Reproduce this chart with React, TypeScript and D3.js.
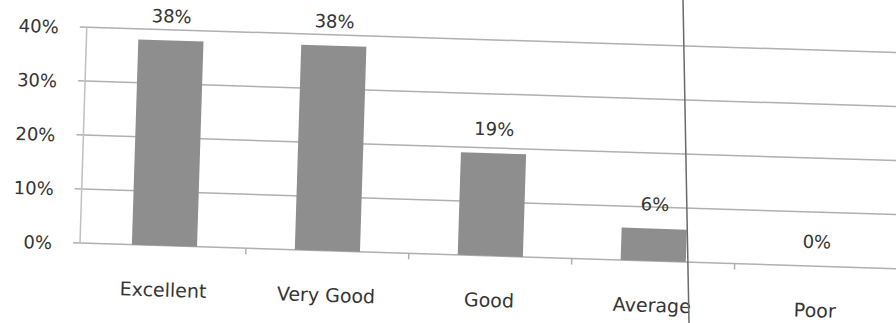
import React, { useEffect, useRef } from 'react';
import * as d3 from 'd3';

const categories = ['Excellent', 'Very Good', 'Good', 'Average', 'Poor'];
const shares = [0.38, 0.38, 0.19, 0.06, 0];
const yTicks = [0, 0.1, 0.2, 0.3, 0.4];

const RatingChart: React.FC = () => {
  const svgRef = useRef<SVGSVGElement>(null);

  useEffect(() => {
    if (!svgRef.current) return;
    const svg = d3.select(svgRef.current);
    svg.selectAll('*').remove();

    const width = 896;
    const height = 323;
    const margin = { top: 27, bottom: 80, left: 80 };
    const chartHeight = height - margin.top - margin.bottom; // 216

    const font = '"DejaVu Sans", sans-serif';
    const textColor = '#353535';
    const gridColor = '#b0b0b0';

    const data = categories.map((c, i) => ({ category: c, value: shares[i] }));

    const xScale = d3.scaleBand()
      .domain(categories)
      .range([3, 818])
      .paddingInner(0.6)
      .paddingOuter(0.3);

    const yScale = d3.scaleLinear()
      .domain([0, 0.4])
      .range([chartHeight, 0]);

    const pct = d3.format('.0%');

    svg.attr('width', width).attr('height', height);
    svg.append('rect').attr('width', width).attr('height', height).attr('fill', '#ffffff');

    // the scanned page is slightly tilted
    const g = svg.append('g')
      .attr('transform', `rotate(1.8, ${margin.left}, ${margin.top + chartHeight}) translate(${margin.left},${margin.top})`);

    // gridlines + left tick marks
    g.selectAll('.grid')
      .data(yTicks)
      .enter()
      .append('line')
      .attr('x1', -7)
      .attr('x2', 830)
      .attr('y1', d => yScale(d))
      .attr('y2', d => yScale(d))
      .attr('stroke', gridColor)
      .attr('stroke-width', 1.5);

    // y axis line
    g.append('line')
      .attr('x1', 0).attr('x2', 0)
      .attr('y1', yScale(0.4)).attr('y2', yScale(0))
      .attr('stroke', '#c0c0c0')
      .attr('stroke-width', 1.5);

    // x axis ticks between categories
    const gap = (xScale.step() - xScale.bandwidth()) / 2;
    g.selectAll('.xtick')
      .data(categories.slice(1))
      .enter()
      .append('line')
      .attr('x1', d => xScale(d)! - gap)
      .attr('x2', d => xScale(d)! - gap)
      .attr('y1', chartHeight)
      .attr('y2', chartHeight + 6)
      .attr('stroke', gridColor)
      .attr('stroke-width', 1.5);

    // y tick labels
    g.selectAll('.ylabel')
      .data(yTicks)
      .enter()
      .append('text')
      .attr('x', -28)
      .attr('y', d => yScale(d) + 7)
      .attr('text-anchor', 'end')
      .attr('font-family', font)
      .attr('font-size', '18px')
      .attr('fill', textColor)
      .text(d => pct(d));

    // bars
    g.selectAll('.bar')
      .data(data)
      .enter()
      .append('rect')
      .attr('x', d => xScale(d.category)!)
      .attr('y', d => yScale(d.value))
      .attr('width', xScale.bandwidth())
      .attr('height', d => chartHeight - yScale(d.value))
      .attr('fill', '#8e8e8e');

    // value labels
    g.selectAll('.value')
      .data(data)
      .enter()
      .append('text')
      .attr('x', d => xScale(d.category)! + xScale.bandwidth() / 2)
      .attr('y', d => yScale(d.value) - 18)
      .attr('text-anchor', 'middle')
      .attr('font-family', font)
      .attr('font-size', '18px')
      .attr('fill', textColor)
      .text(d => pct(d.value));

    // category labels
    g.selectAll('.category')
      .data(data)
      .enter()
      .append('text')
      .attr('x', d => xScale(d.category)! + xScale.bandwidth() / 2)
      .attr('y', chartHeight + 51)
      .attr('text-anchor', 'middle')
      .attr('font-family', font)
      .attr('font-size', '19px')
      .attr('fill', textColor)
      .text(d => d.category);

    // fold line from the scan
    svg.append('line')
      .attr('x1', 683).attr('y1', 0)
      .attr('x2', 689).attr('y2', height)
      .attr('stroke', '#6a6a6a')
      .attr('stroke-width', 1.5);
  }, []);

  return <svg ref={svgRef} style={{ position: 'absolute', left: 0, top: 0 }}></svg>;
};

export default function App() {
  return <RatingChart />;
}
